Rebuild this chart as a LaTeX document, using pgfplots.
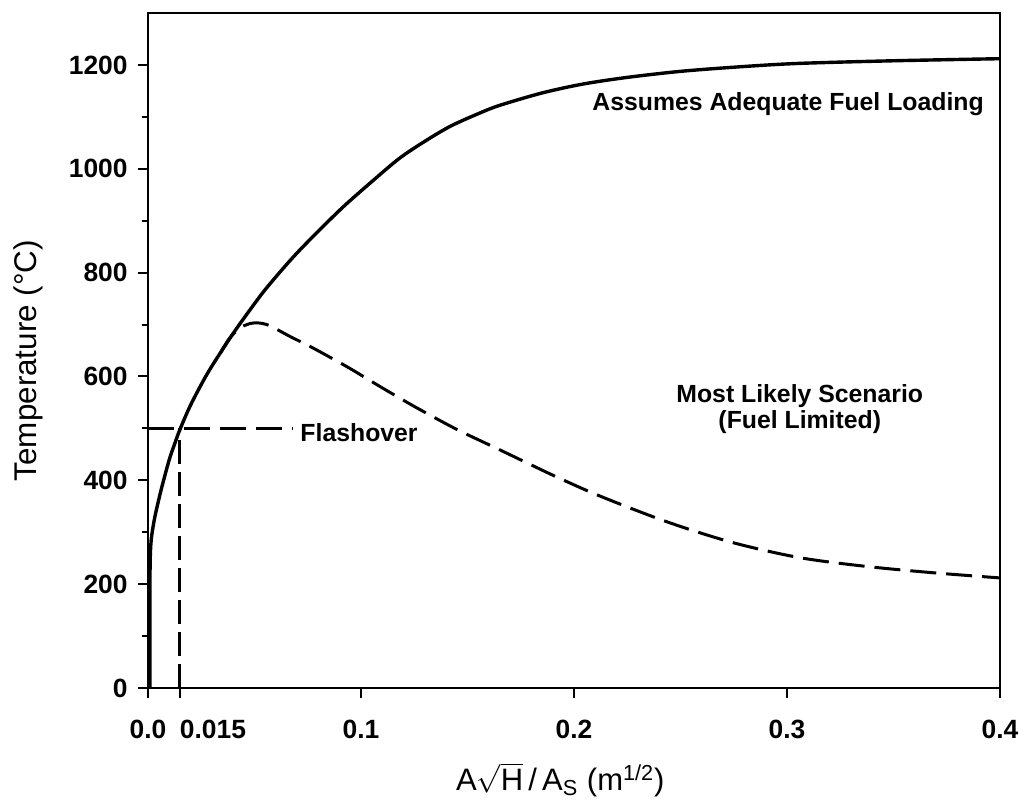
\documentclass[border=0pt]{standalone}
\usepackage{pgfplots}
\pgfplotsset{compat=1.18}
\usepackage{amsmath}
\usepackage{fontspec}
\setmainfont{Liberation Sans}
\newcommand{\tk}{\fontsize{13.2}{15.8}\selectfont\bfseries}
\begin{document}
\begin{tikzpicture}
\useasboundingbox (-74pt,-58pt) rectangle (442pt,344pt);
\begin{axis}[
  at={(0,0)}, anchor=south west,
  width=426pt, height=337.5pt, scale only axis,
  xmin=0, xmax=0.4, ymin=0, ymax=1300,
  axis line style={line width=1.2pt},
  xtick={0,0.015,0.1,0.2,0.3,0.4},
  xticklabels={\tk 0.0,\makebox[0pt][l]{\tk 0.015},\tk 0.1,\tk 0.2,\tk 0.3,\tk 0.4},
  ytick={0,200,400,600,800,1000,1200},
  yticklabels={\tk 0,\tk 200,\tk 400,\tk 600,\tk 800,\tk 1000,\tk 1200},
  minor ytick={100,300,500,700,900,1100},
  tick align=outside,
  xtick pos=bottom, ytick pos=left,
  major tick length=5pt, minor tick length=3pt,
  tick style={line width=1pt, black},
  xticklabel style={anchor=base, inner sep=0pt, yshift=-20pt},
  yticklabel style={anchor=east, inner sep=0pt, xshift=-5pt},
  every axis y label/.style={at={(axis description cs:-0.140,0.485)}, anchor=center, rotate=90, font=\fontsize{15.7}{18}\selectfont},
  every axis x label/.style={at={(axis description cs:0.484,-0.152)}, anchor=base, font=\fontsize{15.5}{18}\selectfont},
  ylabel={Temperature (°C)},
  xlabel={A$\sqrt{\text{H}}$\,/\,A$_\text{S}$ (m$^\text{1/2}$)},
]
% Assumes adequate fuel loading (solid)
\addplot[line width=1.7pt, smooth, black] coordinates {
(0.0009,0) (0.0009,150) (0.0010,240) (0.0015,285) (0.003,325) (0.005,362)
(0.007,395) (0.010,440) (0.0125,470) (0.015,498) (0.020,545) (0.026,592)
(0.030,620) (0.035,652) (0.040,683) (0.045,712) (0.054,762) (0.063,806)
(0.070,838) (0.080,880) (0.092,928) (0.105,975) (0.118,1020) (0.130,1053)
(0.142,1082) (0.155,1106) (0.165,1122) (0.185,1146) (0.204,1163) (0.225,1176)
(0.251,1188) (0.280,1197) (0.306,1203) (0.350,1208) (0.400,1212)
};
% Most likely scenario (dashed)
\addplot[line width=1.5pt, smooth, black, dash pattern=on 13pt off 5pt] coordinates {
(0.034,645) (0.038,672) (0.043,693) (0.048,702) (0.052,703) (0.057,698)
(0.0667,677) (0.076,658) (0.085,638) (0.095,615) (0.110,578) (0.126,540)
(0.145,498) (0.165,459) (0.190,410) (0.212,370) (0.2437,320) (0.2746,280)
(0.306,251) (0.3376,234) (0.3685,222) (0.400,212)
};
% Flashover lines
\addplot[line width=1.5pt, black, dash pattern=on 13pt off 5pt] coordinates {(0,500) (0.068,500)};
\addplot[line width=1.5pt, black, dash pattern=on 12pt off 4pt] coordinates {(0.015,0) (0.015,500)};
\node[anchor=base, font=\fontsize{12.4}{14}\selectfont\bfseries] at (axis cs:0.3005,1112) {Assumes Adequate Fuel Loading};
\node[anchor=base, font=\fontsize{12.4}{14}\selectfont\bfseries] at (axis cs:0.306,549) {Most Likely Scenario};
\node[anchor=base, font=\fontsize{12.4}{14}\selectfont\bfseries] at (axis cs:0.306,499) {(Fuel Limited)};
\node[anchor=base west, inner sep=0pt, font=\fontsize{12.4}{14}\selectfont\bfseries] at (axis cs:0.0714,474) {Flashover};
\end{axis}
\end{tikzpicture}
\end{document}
